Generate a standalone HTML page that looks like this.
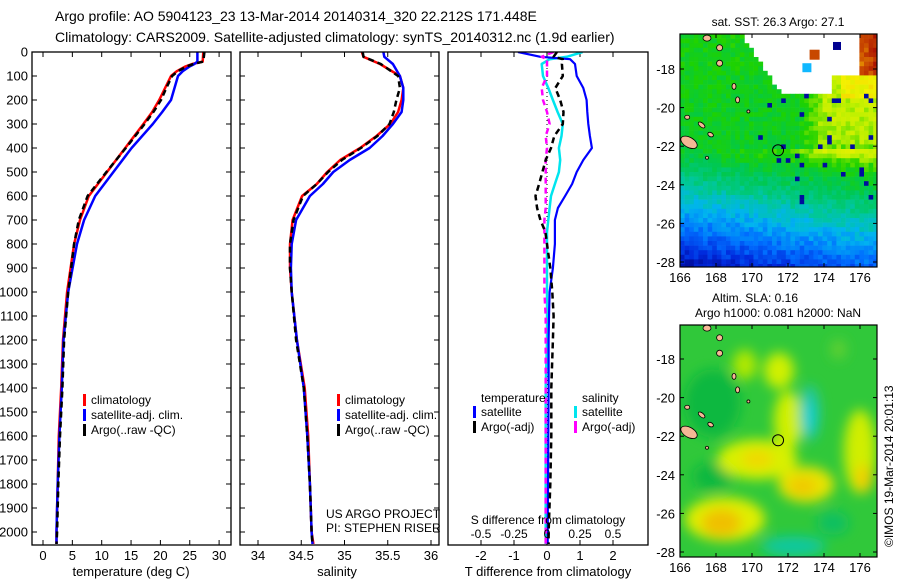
<!DOCTYPE html>
<html><head><meta charset="utf-8"><style>
html,body{margin:0;padding:0;background:#fff;}
svg{display:block;font-family:"Liberation Sans",sans-serif;}
</style></head><body>
<svg id="fig" width="900" height="580" viewBox="0 0 900 580" xmlns="http://www.w3.org/2000/svg">
<defs>
<clipPath id="c1"><rect x="32" y="52" width="199" height="493"/></clipPath>
<clipPath id="c2"><rect x="240" y="52" width="199" height="493"/></clipPath>
<clipPath id="c3"><rect x="448" y="52" width="200" height="493"/></clipPath>
<clipPath id="cm1"><rect x="680" y="34" width="197" height="233"/></clipPath>
<clipPath id="cm2"><rect x="680" y="325" width="197" height="232"/></clipPath>
<filter id="blur" x="-50%" y="-50%" width="200%" height="200%"><feGaussianBlur stdDeviation="6"/></filter>
</defs>
<g font-size="14">
<text x="55" y="21">Argo profile: AO 5904123_23 13-Mar-2014 20140314_320 22.212S 171.448E</text>
<text x="55" y="42">Climatology: CARS2009. Satellite-adjusted climatology: synTS_20140312.nc (1.9d earlier)</text>
</g>
<g id="p1"></g>
<g id="p2"></g>
<g id="p3"></g>
<g id="m1"></g>
<g id="m2"></g>
</svg>
<script>
// ---- data ----
const depthT = [0,40,50,60,80,100,150,200,250,300,400,500,600,700,800,1000,1200,1400,1600,1800,2000,2050];
const tempClim = [27.3,27.2,25.4,24.3,22.8,21.8,20.8,19.8,18.6,17.1,14.0,10.9,7.8,6.3,5.3,4.1,3.4,3.1,2.7,2.5,2.3,2.3];
const tempSat  = [26.3,26.3,25.8,25.0,23.8,23.0,22.4,21.8,20.3,18.7,15.1,12.0,8.9,7.0,5.8,4.3,3.5,3.2,2.8,2.5,2.3,2.3];
const tempArgo = [27.5,27.3,25.6,24.5,23.0,22.0,21.0,20.1,18.8,17.3,14.1,10.8,7.6,6.1,5.3,4.3,3.6,3.3,2.9,2.6,2.4,2.3];
const depthS = [0,20,50,100,150,200,250,300,350,400,450,500,550,600,700,800,900,1000,1200,1400,1600,1800,2000,2050];
const salClim = [35.20,35.22,35.41,35.64,35.68,35.66,35.62,35.53,35.37,35.18,34.95,34.80,34.68,34.51,34.40,34.37,34.37,34.39,34.45,34.54,34.58,34.60,34.62,34.64];
const salSat  = [35.45,35.46,35.56,35.64,35.68,35.68,35.66,35.56,35.44,35.29,35.06,34.87,34.75,34.60,34.44,34.39,34.38,34.39,34.45,34.53,34.57,34.60,34.62,34.63];
const salArgo = [35.21,35.22,35.42,35.62,35.64,35.60,35.57,35.52,35.38,35.19,34.97,34.81,34.68,34.52,34.41,34.37,34.37,34.39,34.44,34.53,34.57,34.60,34.62,34.63];
const depthD = [0,20,30,50,100,150,200,250,300,350,400,450,500,550,600,650,700,750,800,900,1000,1100,1200,1400,1600,1800,2000,2050];
const dTsat  = [-0.88,-0.2,0.7,0.85,0.9,1.1,1.2,1.22,1.25,1.3,1.36,1.1,0.9,0.76,0.55,0.33,0.24,0.24,0.24,0.18,0.08,0.06,0.05,0.05,0.04,0.03,0.02,0.02];
const dTargo = [0.3,0.2,0.48,0.45,0.48,0.25,0.4,0.5,0.48,0.22,0.12,-0.04,-0.14,-0.24,-0.35,-0.3,-0.2,-0.05,0.0,0.1,0.16,0.2,0.18,0.13,0.13,0.1,0.05,0.05];
const dSsat  = [0.27,0.15,0.02,-0.04,-0.03,0.01,0.045,0.08,0.12,0.11,0.09,0.10,0.09,0.06,0.03,0.02,0.01,0.0,0.0,0.0,0.0,0.0,0.0,-0.01,-0.01,-0.01,-0.01,-0.01];
const dSargo = [0.05,-0.04,0.0,0.0,0.0,-0.04,-0.03,0.0,0.02,-0.01,0.0,-0.01,-0.01,-0.01,-0.01,-0.01,-0.02,-0.02,-0.02,-0.02,-0.02,-0.01,-0.01,-0.01,-0.01,-0.01,-0.01,-0.01];
const depthTicks = [0,100,200,300,400,500,600,700,800,900,1000,1100,1200,1300,1400,1500,1600,1700,1800,1900,2000];
const tempTicks = [0,5,10,15,20,25,30];
const salTicks = [34,34.5,35,35.5,36];
const dTTicks = [-2,-1,0,1,2];
const dSTicks = [-0.5,-0.25,0,0.25,0.5];
const lonTicks = [166,168,170,172,174,176];
const latTicks = [-18,-20,-22,-24,-26,-28];
const argoLon = 171.448, argoLat = -22.212;

// ---- helpers ----
const NS="http://www.w3.org/2000/svg";
function mk(tag, parent, attrs){const e=document.createElementNS(NS,tag);for(const k in attrs)e.setAttribute(k,attrs[k]);parent.appendChild(e);return e;}
function txt(parent,x,y,s,anchor,size){const t=mk('text',parent,{x:x,y:y,'text-anchor':anchor||'start','font-size':size||12});t.textContent=s;return t;}
const yD = d => 52 + d*0.24;
const xT = v => 43 + v*5.87;
const xS = v => 258 + (v-34)*86.5;
const xDT = v => 547 + v*33;
const xDS = v => 547 + v*132;

function line(parent, xs, ys, xf, color, dash, w, name){
  let d='';
  for(let i=0;i<xs.length;i++){d+=(i?'L':'M')+xf(xs[i]).toFixed(1)+','+yD(ys[i]).toFixed(1);}
  const p=mk('path',parent,{d:d,fill:'none',stroke:color,'stroke-width':w||2.5,'stroke-dasharray':dash||'none','stroke-linejoin':'round'});
  
  
  return p;
}
function frame(parent,x0,w,name){
  const r=mk('rect',parent,{x:x0,y:52,width:w,height:493,fill:'none',stroke:'#000','stroke-width':1.3});
  
  
}
function depthTickMarks(parent,x0,w,labels){
  depthTicks.forEach(d=>{
    const y=yD(d);
    mk('line',parent,{x1:x0,x2:x0+5,y1:y,y2:y,stroke:'#000'});
    mk('line',parent,{x1:x0+w-5,x2:x0+w,y1:y,y2:y,stroke:'#000'});
    if(labels){const t=txt(parent,28,y+4.5,String(d),'end',13);
      
      }
  });
}
function xTickMarks(parent,ticks,xf,labels,ly){
  ticks.forEach(v=>{
    const x=xf(v);
    mk('line',parent,{x1:x,x2:x,y1:52,y2:57,stroke:'#000'});
    mk('line',parent,{x1:x,x2:x,y1:540,y2:545,stroke:'#000'});
    if(labels){const t=txt(parent,x,ly,String(v),'middle',13);
      
      }
  });
}
function legend(parent,x,y,items){
  items.forEach((it,i)=>{
    const yy=y+i*15;
    mk('rect',parent,{x:x,y:yy-10,width:3,height:12,fill:it[1]});
    const t=txt(parent,x+8,yy,it[0],'start',12);
    
    
  });
}

// ---- panel 1: temperature ----
const p1=document.getElementById('p1');
depthTickMarks(p1,32,199,true);
xTickMarks(p1,tempTicks,xT,true,560);
const g1=mk('g',p1,{'clip-path':'url(#c1)'});
line(g1,tempClim,depthT,xT,'#ff0000',null,2.5,'temp-climatology-line');
line(g1,tempSat,depthT,xT,'#0000ff',null,2.5,'temp-satellite-line');
line(g1,tempArgo,depthT,xT,'#000000','6,4',2.5,'temp-argo-line');
frame(p1,32,199,'temperature-frame');
legend(p1,83,404,[['climatology','#ff0000'],['satellite-adj. clim.','#0000ff'],['Argo(..raw -QC)','#000']]);
let t=txt(p1,131,576,'temperature (deg C)','middle',13);


// ---- panel 2: salinity ----
const p2=document.getElementById('p2');
depthTickMarks(p2,240,199,false);
xTickMarks(p2,salTicks,xS,true,560);
const g2=mk('g',p2,{'clip-path':'url(#c2)'});
line(g2,salClim,depthS,xS,'#ff0000',null,2.5,'sal-climatology-line');
line(g2,salSat,depthS,xS,'#0000ff',null,2.5,'sal-satellite-line');
line(g2,salArgo,depthS,xS,'#000000','6,4',2.5,'sal-argo-line');
frame(p2,240,199,'salinity-frame');
legend(p2,337,404,[['climatology','#ff0000'],['satellite-adj. clim.','#0000ff'],['Argo(..raw -QC)','#000']]);
txt(p2,326,518,'US ARGO PROJECT','start',12);
txt(p2,326,532,'PI: STEPHEN RISER','start',12);
t=txt(p2,337,576,'salinity','middle',13);


// ---- panel 3: differences ----
const p3=document.getElementById('p3');
xTickMarks(p3,dTTicks,xDT,true,560);
const g3=mk('g',p3,{'clip-path':'url(#c3)'});
mk('line',g3,{x1:547,x2:547,y1:52,y2:545,stroke:'#000','stroke-dasharray':'1,3'});
line(g3,dSsat,depthD,xDS,'#00e5ee',null,2.5,'sal-diff-satellite-line');
line(g3,dTsat,depthD,xDT,'#0000ff',null,2.2,'temp-diff-satellite-line');
line(g3,dSargo,depthD,xDS,'#ff00ff','6,4',2.5,'sal-diff-argo-line');
line(g3,dTargo,depthD,xDT,'#000000','6,4',2.5,'temp-diff-argo-line');
frame(p3,448,200,'difference-frame');
txt(p3,481,402,'temperature','start',12);
txt(p3,582,402,'salinity','start',12);
legend(p3,473,416,[['satellite','#0000ff'],['Argo(-adj)','#000']]);
legend(p3,574,416,[['satellite','#00e5ee'],['Argo(-adj)','#ff00ff']]);
t=txt(p3,548,524,'S difference from climatology','middle',12);

dSTicks.forEach(v=>{txt(p3,xDS(v),538,String(v),'middle',12);});
t=txt(p3,548,576,'T difference from climatology','middle',13);


// ---- maps ----
const lonX = l => 680 + (l-166)*18;
function latY1(l){return 69 + (-18-l)*19.3;}
function latY2(l){return 359 + (-18-l)*19.3;}
function hash(i,j){let h=(i*374761393+j*668265263)>>>0;h=((h^(h>>13))*1274126177)>>>0;return (h%1000)/1000;}
const ramp=[[0,0,128],[0,40,220],[0,110,255],[0,180,240],[0,200,150],[0,200,80],[30,210,0],[190,240,0],[245,240,0],[240,170,0],[200,70,0],[160,0,0]];
function cmap(v){v=Math.max(0,Math.min(0.9999,v));const f=v*(ramp.length-1),i=Math.floor(f),r=f-i;const a=ramp[i],b=ramp[i+1];
  return 'rgb('+a.map((c,k)=>Math.round(c+(b[k]-c)*r)).join(',')+')';}
function mapAxes(g,latY,top,bottom,name){
  const r=mk('rect',g,{x:680,y:top,width:197,height:bottom-top,fill:'none',stroke:'#000','stroke-width':1.2});
  
  
  lonTicks.forEach(l=>{const x=lonX(l);
    mk('line',g,{x1:x,x2:x,y1:bottom,y2:bottom-4,stroke:'#000'});
    mk('line',g,{x1:x,x2:x,y1:top,y2:top+4,stroke:'#000'});
    txt(g,x,bottom+15,String(l),'middle',13);});
  latTicks.forEach(l=>{const y=latY(l);
    mk('line',g,{x1:680,x2:684,y1:y,y2:y,stroke:'#000'});
    mk('line',g,{x1:877,x2:873,y1:y,y2:y,stroke:'#000'});
    txt(g,675,y+5,String(l),'end',13);});
}
function islands(g,latY){
  const isl=[[166.5,-21.8,9,5,30],[167.2,-20.9,4,2,40],[167.7,-21.4,3,2,30],[167.5,-16.4,4,3,0],[168.2,-16.9,3,3,0],[168.2,-17.7,3,3,0],[169.0,-18.9,2,3,0],[169.2,-19.6,2,3,0],[166.4,-20.5,2.5,2,0],[169.8,-20.2,1.5,1.5,0],[167.5,-22.6,1.5,1.5,0]];
  isl.forEach(s=>{mk('ellipse',g,{cx:lonX(s[0]),cy:latY(s[1]),rx:s[2],ry:s[3],fill:'#f5b895',stroke:'#000','stroke-width':0.8,transform:'rotate('+s[4]+' '+lonX(s[0])+' '+latY(s[1])+')'});});
  const c=mk('circle',g,{cx:lonX(argoLon),cy:latY(argoLat),r:5.5,fill:'none',stroke:'#000','stroke-width':1});
  
  
}
// map 1: SST
const m1=document.getElementById('m1');
t=txt(m1,778,26,'sat. SST: 26.3 Argo: 27.1','middle',12);

const gm1=mk('g',m1,{'clip-path':'url(#cm1)'});
const cs=4.6;
for(let i=0;i<44;i++){for(let j=0;j<52;j++){
  const x=680+i*cs, y=34+j*cs, lon=166+(x-680)/18, lat=-18-(y-69)/19.3;
  const edge = lon<171.5 ? -16.3-(lon-169.4)*1.35 : -19.1;
  if(lon>169.4 && lon<174.3 && lat>edge) continue;
  if(lat>-18.3 && lon>=174.3 && lon<175.8) continue;
  let v;
  if(lat>-22){v=0.50+(lat+22)*0.004;} else {v=0.50+(lat+22)*0.075+(lon-166)*0.012;}
  const yl=Math.min(1,Math.max(0,(lon-172.4)/1.6))*Math.min(1,Math.max(0,(lat+22.8)/1.2));
  if(lat<-18.3) v+=0.13*yl;
  if(lon>174.8 && lat>-19.3 && lat<-18.3) v=0.72;
  if(lon>175.6 && lat>-18.3) v=0.85+(lon-175.6)*0.08;
  v+= (hash(i,j)-0.5)*0.07;
  if(lat<-18.8 && lat>-25 && lon>170 && hash(j,i)>0.965) v=0.03;
  mk('rect',gm1,{x:x,y:y,width:cs+0.3,height:cs+0.3,fill:cmap(v)});
}}
mk('rect',gm1,{x:lonX(173.2),y:latY1(-17.0),width:10,height:10,fill:'#c84800'});
mk('rect',gm1,{x:lonX(172.8),y:latY1(-17.7),width:9,height:9,fill:'#10b8ff'});
mk('rect',gm1,{x:lonX(174.5),y:latY1(-16.6),width:8,height:8,fill:'#000090'});
islands(gm1,latY1);
mapAxes(m1,latY1,34,267,'sst-map');
// map 2: SLA
const m2=document.getElementById('m2');
t=txt(m2,755,302,'Altim. SLA: 0.16','middle',12);

txt(m2,778,317,'Argo h1000: 0.081 h2000: NaN','middle',12);
const gm2=mk('g',m2,{'clip-path':'url(#cm2)'});
mk('rect',gm2,{x:680,y:325,width:197,height:232,fill:'#30c83a'});
const gb=mk('g',gm2,{filter:'url(#blur)'});
const blobs=[[167.8,-20.3,28,34,'#10b840'],[167.8,-24.1,20,14,'#10b840'],[170.3,-23.2,40,20,'#d8f000'],[172.0,-21.2,14,30,'#d0f000'],[171.5,-18.6,15,18,'#d0f000'],[169.6,-18.3,12,15,'#b0e800'],[168.5,-26.3,40,22,'#e0ee00'],[168.3,-26.5,20,14,'#f0c000'],[170.3,-23.2,16,9,'#f0d800'],[173.0,-24.5,28,18,'#e8e400'],[172.8,-24.6,14,9,'#f0c800'],[176.0,-22.8,16,42,'#d0ee00'],[176.2,-24.2,9,14,'#f0d000'],[174.8,-17.5,8,10,'#60d030'],[173.2,-20.8,10,28,'#20c8a8'],[173.2,-21.0,5,16,'#10d0d8'],[172.3,-27.7,32,10,'#10c8a0'],[174.5,-26.5,16,12,'#10c060']];
blobs.forEach(b=>{mk('ellipse',gb,{cx:lonX(b[0]),cy:latY2(b[1]),rx:b[2],ry:b[3],fill:b[4]});});
islands(gm2,latY2);
mapAxes(m2,latY2,325,557,'sla-map');
const cr=mk('text',m2,{x:0,y:0,'font-size':12,transform:'translate(893,547) rotate(-90)'});
cr.textContent='©IMOS 19-Mar-2014 20:01:13';


</script>
</body></html>
